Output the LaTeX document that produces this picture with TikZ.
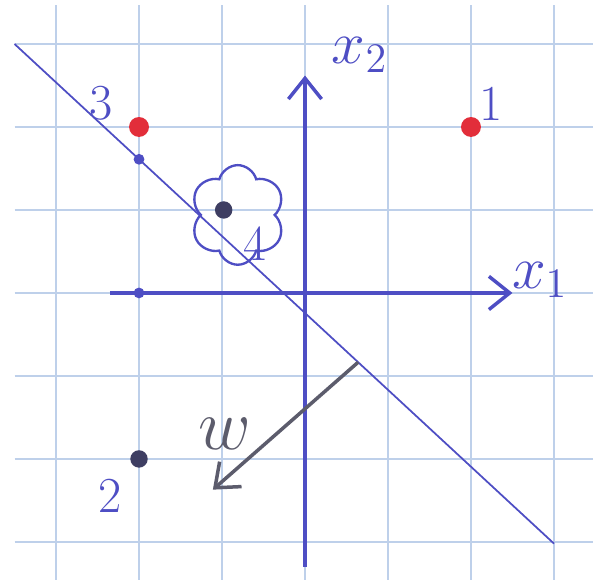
\documentclass[tikz,border=0pt]{standalone}
\usepackage{tikz}
\usetikzlibrary{arrows.meta,positioning,shapes.symbols,calc}
\definecolor{inkblue}{RGB}{78,78,196}
\definecolor{gridblue}{RGB}{190,208,234}
\definecolor{dotred}{RGB}{226,46,58}
\definecolor{dotdark}{RGB}{62,62,98}
\definecolor{inkgray}{RGB}{92,92,108}

\begin{document}
\begin{tikzpicture}[
  pt/.style={circle, inner sep=0pt, minimum size=2.4mm},
  redpt/.style={pt, fill=dotred},
  darkpt/.style={pt, fill=dotdark, minimum size=2.1mm},
  lbl/.style={font=\LARGE, text=inkblue},
  axis/.style={-{Straight Barb[length=2.5mm,width=4mm]}, very thick, inkblue},
  tickdot/.style={circle, fill=inkblue, inner sep=0pt, minimum size=1.3mm}
]
\useasboundingbox[fill=white] (-3.675,-3.458) rectangle (3.47,3.53);
\draw[gridblue, thin] (-3.5,-3.458) grid (3.47,3.47);

% axes
\coordinate (x1s) at (-2.35,0);
\coordinate (x1e) at (2.5,0);
\coordinate (x2s) at (0,-3.3);
\coordinate (x2e) at (0,2.62);
\draw[axis] (x1s) -- (x1e);
\draw[axis] (x2s) -- (x2e);
\node[lbl, font=\huge] (x1lbl) at (2.83,0.16) {$x_1$};
\node[lbl, font=\huge] (x2lbl) at (0.66,2.87) {$x_2$};

% separating line
\coordinate (hs) at (-3.5,3.0);
\coordinate (he) at (3.0,-3.02);
\draw[inkblue, semithick] (hs) -- (he);
\node[tickdot] (t1) at (-2,0) {};
\node[tickdot] (t2) at ($(hs)!0.2308!(he)$) {};

% data points
\node[redpt] (p1) at (2,2) {};
\node[redpt] (p3) at (-2,2) {};
\node[darkpt] (p2) at (-2,-2) {};
\node[darkpt] (p4) at (-0.98,1.0) {};
\node[lbl] (l1) at (2.24,2.28) {1};
\node[lbl] (l3) at (-2.46,2.28) {3};
\node[lbl] (l2) at (-2.35,-2.45) {2};
\node[lbl] (l4) at (-0.6,0.6) {4};

\node[cloud, draw=inkblue, thick, cloud puffs=6, aspect=1,
  minimum width=1.15cm, minimum height=1.2cm] (c4) at (-0.81,0.94) {};

% normal vector
\coordinate (wbase) at ($(hs)!0.637!(he)$);
\coordinate (wtip) at (-1.11,-2.37);
\draw[inkgray, very thick, -{Straight Barb[length=2.5mm,width=4mm]}] (wbase) -- (wtip);
\node[lbl, font=\Huge, text=inkgray] (wlbl) at (-0.96,-1.7) {$w$};
\end{tikzpicture}
\end{document}
